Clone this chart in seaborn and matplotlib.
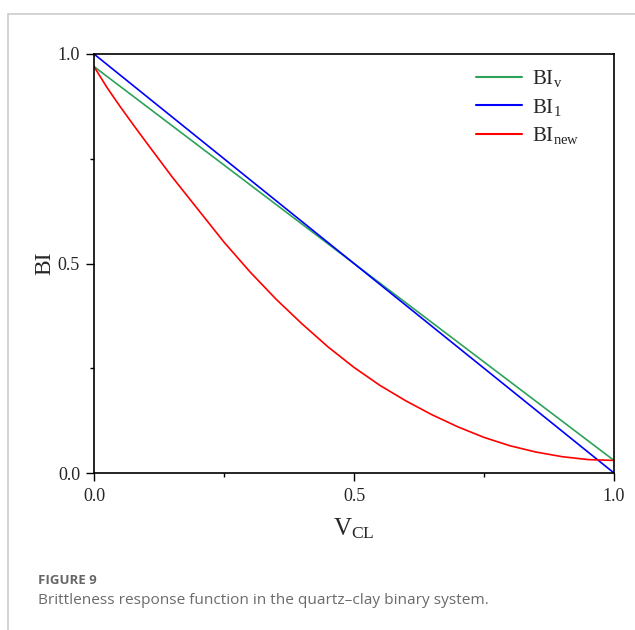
import matplotlib
matplotlib.use("Agg")
import matplotlib.pyplot as plt
import seaborn as sns
import pandas as pd
from matplotlib.lines import Line2D

# ---- data ----
series_names = [r"$\mathrm{BI}_\mathrm{v}$", r"$\mathrm{BI}_\mathrm{1}$", r"$\mathrm{BI}_\mathrm{new}$"]
bi_v_x = [0.0, 1.0]
bi_v_y = [0.97, 0.03]
bi_1_x = [0.0, 1.0]
bi_1_y = [1.0, 0.0]
bi_new_x = [0.0, 0.025, 0.05, 0.075, 0.1, 0.15, 0.2, 0.25, 0.3, 0.35, 0.4, 0.45, 0.5,
            0.55, 0.6, 0.65, 0.7, 0.75, 0.8, 0.85, 0.9, 0.95, 1.0]
bi_new_y = [0.97, 0.92, 0.875, 0.832, 0.79, 0.707, 0.629, 0.551, 0.48, 0.415, 0.356,
            0.301, 0.252, 0.209, 0.172, 0.139, 0.11, 0.085, 0.065, 0.05, 0.039, 0.032, 0.03]
colors = ["#2ca25a", "#0000ff", "#ff0000"]
x_ticks = [0.0, 0.5, 1.0]
y_ticks = [0.0, 0.5, 1.0]
x_tick_labels = ["0.0", "0.5", "1.0"]
y_tick_labels = ["0.0", "0.5", "1.0"]
caption_title = "FIGURE 9"
caption_text = "Brittleness response function in the quartz\u2013clay binary system."

df = pd.concat([
    pd.DataFrame({"x": bi_v_x, "y": bi_v_y, "s": series_names[0]}),
    pd.DataFrame({"x": bi_1_x, "y": bi_1_y, "s": series_names[1]}),
    pd.DataFrame({"x": bi_new_x, "y": bi_new_y, "s": series_names[2]}),
], ignore_index=True)

sns.set_style("white")
plt.rcParams["font.family"] = ["Liberation Serif", "DejaVu Serif"]
plt.rcParams["mathtext.fontset"] = "custom"
plt.rcParams["mathtext.rm"] = "Liberation Serif"
plt.rcParams["mathtext.it"] = "Liberation Serif:italic"
plt.rcParams["mathtext.bf"] = "Liberation Serif:bold"

fig = plt.figure(figsize=(6.35, 6.30), dpi=100)
ax = fig.add_axes([94 / 635, 1 - 473 / 630, (614 - 94) / 635, (473 - 54) / 630])

sns.lineplot(data=df, x="x", y="y", hue="s", hue_order=series_names,
             palette=colors, sort=False, linewidth=1.2, ax=ax, legend=False)

ax.set_xlim(0, 1)
ax.set_ylim(0, 1)
ax.set_xticks(x_ticks)
ax.set_xticklabels(x_tick_labels)
ax.set_yticks(y_ticks)
ax.set_yticklabels(y_tick_labels)
ax.set_xticks([0.25, 0.75], minor=True)
ax.set_yticks([0.25, 0.75], minor=True)
ax.tick_params(axis="both", which="major", direction="out", length=6, width=1.0,
               labelsize=13, color="black", bottom=True, left=True, top=False, right=False)
ax.tick_params(axis="both", which="minor", direction="out", length=3, width=1.0,
               color="black", bottom=True, left=True, top=False, right=False)
ax.tick_params(axis="x", pad=5)
ax.tick_params(axis="y", pad=4)
for sp in ax.spines.values():
    sp.set_visible(True)
    sp.set_color("black")
    sp.set_linewidth(1.2)

ax.set_xlabel(r"$\mathrm{V}_\mathrm{CL}$", fontsize=18, labelpad=8)
ax.set_ylabel("BI", fontsize=17, labelpad=2)

handles = [Line2D([], [], color=c, linewidth=1.5) for c in colors]
ax.legend(handles, series_names, loc="upper left", bbox_to_anchor=(0.735, 0.966),
          frameon=False, fontsize=15, handlelength=2.2, handletextpad=0.5,
          labelspacing=0.35, borderpad=0, borderaxespad=0)

# card border lines
fig.add_artist(Line2D([8 / 635, 1.0], [1 - 14 / 630, 1 - 14 / 630], color="#cccccc", linewidth=1.2,
                      transform=fig.transFigure))
fig.add_artist(Line2D([8 / 635, 8 / 635], [1 - 14 / 630, 0.0], color="#cccccc", linewidth=1.2,
                      transform=fig.transFigure))

fig.text(38 / 635, 1 - 580 / 630, caption_title, fontsize=9.5, color="#666666",
         family=["Open Sans", "DejaVu Sans"], weight="bold", va="center", ha="left")
fig.text(38 / 635, 1 - 601 / 630, caption_text, fontsize=11.1, color="#6b6b6b",
         family=["Open Sans", "DejaVu Sans"], va="center", ha="left")

fig.savefig("out.png", dpi=100)
